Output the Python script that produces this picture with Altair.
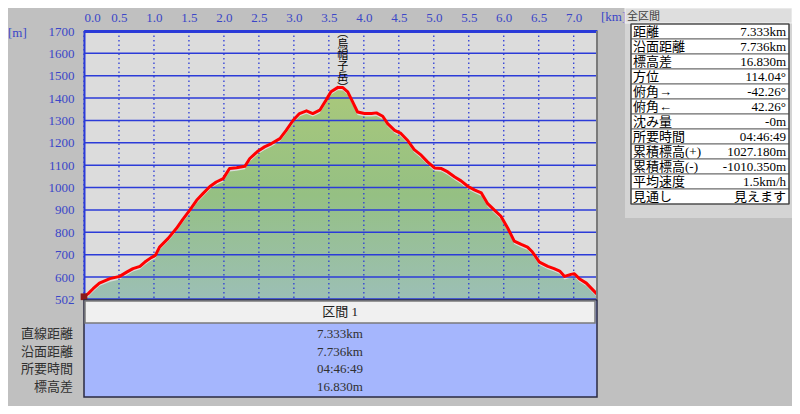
import altair as alt
import pandas as pd

# ---------------- data ----------------
km = [0.00, 0.06, 0.13, 0.22, 0.37, 0.51, 0.61, 0.70, 0.80, 0.87, 0.96, 1.02, 1.08, 1.20,
      1.32, 1.41, 1.51, 1.61, 1.70, 1.80, 1.89, 1.99, 2.08, 2.18, 2.30, 2.37, 2.49, 2.58,
      2.68, 2.80, 2.89, 2.99, 3.08, 3.18, 3.27, 3.37, 3.46, 3.53, 3.63, 3.70, 3.77, 3.84,
      3.91, 4.01, 4.11, 4.18, 4.27, 4.34, 4.44, 4.53, 4.63, 4.72, 4.82, 4.91, 5.01, 5.11,
      5.20, 5.30, 5.39, 5.49, 5.58, 5.68, 5.77, 5.87, 5.96, 6.06, 6.15, 6.25, 6.34, 6.41,
      6.51, 6.63, 6.72, 6.80, 6.87, 6.96, 7.01, 7.08, 7.18, 7.27, 7.33]
elev = [512, 526, 548, 573, 593, 603, 622, 638, 648, 667, 687, 697, 734, 772,
        817, 857, 898, 943, 973, 1005, 1025, 1040, 1085, 1089, 1095, 1130, 1164, 1182,
        1197, 1219, 1256, 1301, 1331, 1343, 1331, 1346, 1391, 1428, 1448, 1447, 1428, 1383,
        1338, 1331, 1331, 1334, 1319, 1286, 1256, 1242, 1209, 1170, 1145, 1115, 1088, 1085,
        1070, 1047, 1030, 1005, 990, 976, 928, 898, 872, 817, 761, 746, 734, 712,
        667, 648, 638, 627, 603, 612, 615, 593, 573, 544, 525]

x_ticks = [0.0, 0.5, 1.0, 1.5, 2.0, 2.5, 3.0, 3.5, 4.0, 4.5, 5.0, 5.5, 6.0, 6.5, 7.0]
y_ticks = [502, 600, 700, 800, 900, 1000, 1100, 1200, 1300, 1400, 1500, 1600, 1700]

peak_name = "︵烏帽子岳︶"
peak_km = [3.70]

summary_labels = ["距離", "沿面距離", "標高差", "方位", "俯角→", "俯角←", "沈み量",
                  "所要時間", "累積標高(+)", "累積標高(-)", "平均速度", "見通し"]
summary_values = ["7.333km", "7.736km", "16.830m", "114.04°", "-42.26°", "42.26°", "-0m",
                  "04:46:49", "1027.180m", "-1010.350m", "1.5km/h", "見えます"]
summary_title = "全区間"

section_title = "区間 1"
section_labels = ["直線距離", "沿面距離", "所要時間", "標高差"]
section_values = ["7.333km", "7.736km", "04:46:49", "16.830m"]

# ---------------- style ----------------
W, H = 513, 268
BLUE = "#2b3bd8"
LBL = "#3a46c8"
NUMFONT = "Liberation Serif, Noto Sans CJK JP"
JPFONT = "Noto Sans CJK JP"

xs = alt.Scale(domain=[0, 7.333], nice=False)
ys = alt.Scale(domain=[502, 1700], zero=False, nice=False)

x_axis = alt.Axis(
    orient="top", values=x_ticks, format=".1f", labelFlush=True, labelOverlap=False,
    ticks=False, domainColor=BLUE, domainWidth=3, grid=False, labelColor=LBL,
    labelFont="Liberation Serif", labelFontSize=13, labelPadding=7, title=None)
y_axis = alt.Axis(
    values=y_ticks, format="d", labelOverlap=False, ticks=False, domainColor=BLUE,
    domainWidth=2, grid=False, labelColor=LBL, labelFont="Liberation Serif",
    labelFontSize=13, labelPadding=10, title=None)


def X(field):
    return alt.X(field, scale=xs, axis=x_axis)


def Y(field):
    return alt.Y(field, scale=ys, axis=y_axis)


prof = pd.DataFrame({"km": km, "elev": elev})
one = pd.DataFrame({"a": [0]})

grad = alt.Gradient(
    gradient="linear",
    stops=[alt.GradientStop(color="#a9c87b", offset=0),
           alt.GradientStop(color="#95c083", offset=0.5),
           alt.GradientStop(color="#9cbfb6", offset=1)],
    x1=0, x2=0, y1=0, y2=1,
)

area = alt.Chart(prof).mark_area(color=grad, yOffset=3, clip=True).encode(
    x=X("km:Q"), y=Y("elev:Q"), y2=alt.datum(502))

hgrid = alt.Chart(pd.DataFrame({"y": y_ticks})).mark_rule(color=BLUE, strokeWidth=1.5).encode(
    y=Y("y:Q"))
vgrid = alt.Chart(pd.DataFrame({"x": x_ticks})).mark_rule(
    color=BLUE, strokeWidth=1.3, strokeDash=[1.5, 3]).encode(x=X("x:Q"))

line = alt.Chart(prof).mark_line(color="#ff0000", strokeWidth=3, strokeJoin="round").encode(
    x=X("km:Q"), y=Y("elev:Q"))

start = alt.Chart(prof.head(1)).mark_point(shape="square", filled=True, color="#8b1a1a",
                                           size=45, opacity=1).encode(
    x=X("km:Q"), y=Y("elev:Q"))

right_border = alt.Chart(one).mark_rule(color="#7a7a7a", strokeWidth=2).encode(
    x=alt.value(W), y=alt.value(0), y2=alt.value(H))

peak = alt.Chart(pd.DataFrame({"km": peak_km, "name": ["\n".join(peak_name)]})).mark_text(
    lineBreak="\n", fontSize=11, lineHeight=11, baseline="top", font=JPFONT, color="black"
).encode(x=X("km:Q"), y=alt.value(-3), text="name:N")

unit_m = alt.Chart(one).mark_text(text="[m]", font="Liberation Serif", fontSize=13,
                                  color=LBL, align="left", baseline="middle").encode(
    x=alt.value(-76), y=alt.value(2))
unit_km = alt.Chart(one).mark_text(text="[km]", font="Liberation Serif", fontSize=13,
                                   color=LBL, align="left", baseline="middle").encode(
    x=alt.value(517), y=alt.value(-14))

# ---------------- bottom section table ----------------
sec_box = alt.Chart(one).mark_rect(fill="#a5b6fd", stroke="#2a2a40", strokeWidth=1.5).encode(
    x=alt.value(0), x2=alt.value(W), y=alt.value(269), y2=alt.value(366))
sec_head = alt.Chart(one).mark_rect(fill="#f0f0f0", stroke="#7a7a7a", strokeWidth=1.5).encode(
    x=alt.value(1), x2=alt.value(W - 2), y=alt.value(270), y2=alt.value(292))
sec_title = alt.Chart(one).mark_text(text=section_title, font=NUMFONT, fontSize=13,
                                     color="#202020", baseline="middle").encode(
    x=alt.value(256), y=alt.value(280.5))

sec_df = pd.DataFrame({"label": section_labels, "value": section_values})
sec_rows = alt.Chart(sec_df).transform_window(i="row_number()").transform_calculate(
    py="303 + (datum.i - 1) * 17.7")
sec_lab = sec_rows.mark_text(font=JPFONT, fontSize=13, color="#303030", align="right",
                             baseline="middle").encode(
    x=alt.value(-11), y=alt.Y("py:Q", scale=None, axis=None), text="label:N")
sec_val = sec_rows.mark_text(font=NUMFONT, fontSize=13, color="#303030", align="center",
                             baseline="middle").encode(
    x=alt.value(256), y=alt.Y("py:Q", scale=None, axis=None), text="value:N")

# ---------------- right summary table ----------------
panel = alt.Chart(one).mark_rect(fill="#d4d4d4").encode(
    x=alt.value(541), x2=alt.value(708), y=alt.value(-9), y2=alt.value(187))
head_box = alt.Chart(one).mark_rect(fill="#dedede", stroke="#f4f4f4", strokeWidth=1).encode(
    x=alt.value(541), x2=alt.value(708), y=alt.value(-23), y2=alt.value(-8))
head_txt = alt.Chart(one).mark_text(text=summary_title, font=JPFONT, fontSize=11,
                                    color="#404040", align="left", baseline="middle").encode(
    x=alt.value(543), y=alt.value(-14))

sum_df = pd.DataFrame({"label": summary_labels, "value": summary_values})
sum_rows = alt.Chart(sum_df).transform_window(i="row_number()").transform_calculate(
    top="-7 + (datum.i - 1) * 15", bot="8 + (datum.i - 1) * 15", mid="0.5 + (datum.i - 1) * 15")
sum_cells = sum_rows.mark_rect(fill="white", stroke="#6a6a6a", strokeWidth=1).encode(
    x=alt.value(547), x2=alt.value(705),
    y=alt.Y("top:Q", scale=None, axis=None), y2="bot:Q")
sum_lab = sum_rows.mark_text(font=NUMFONT, fontSize=13, color="black", align="left",
                             baseline="middle").encode(
    x=alt.value(549), y=alt.Y("mid:Q", scale=None, axis=None), text="label:N")
sum_val = sum_rows.mark_text(font=NUMFONT, fontSize=13, color="black", align="right",
                             baseline="middle").encode(
    x=alt.value(702), y=alt.Y("mid:Q", scale=None, axis=None), text="value:N")
sum_frame = alt.Chart(one).mark_rect(fill=None, stroke="#404040", strokeWidth=1.2).encode(
    x=alt.value(547), x2=alt.value(705), y=alt.value(-7), y2=alt.value(173))

chart = alt.layer(
    area, hgrid, vgrid, line, start, right_border, peak, unit_m, unit_km,
    sec_box, sec_head, sec_title, sec_lab, sec_val,
    panel, head_box, head_txt, sum_cells, sum_frame, sum_lab, sum_val,
).properties(
    width=W, height=H,
    autosize=alt.AutoSizeParams(type="none"),
    padding={"left": 76, "top": 23, "right": 195, "bottom": 107},
    background="#c0c0c0",
).configure_view(fill="#dcdcdc", stroke=None).configure_axis(labelOverlap=False)

chart.save("out.html", embed_options={"renderer": "svg", "actions": False})
